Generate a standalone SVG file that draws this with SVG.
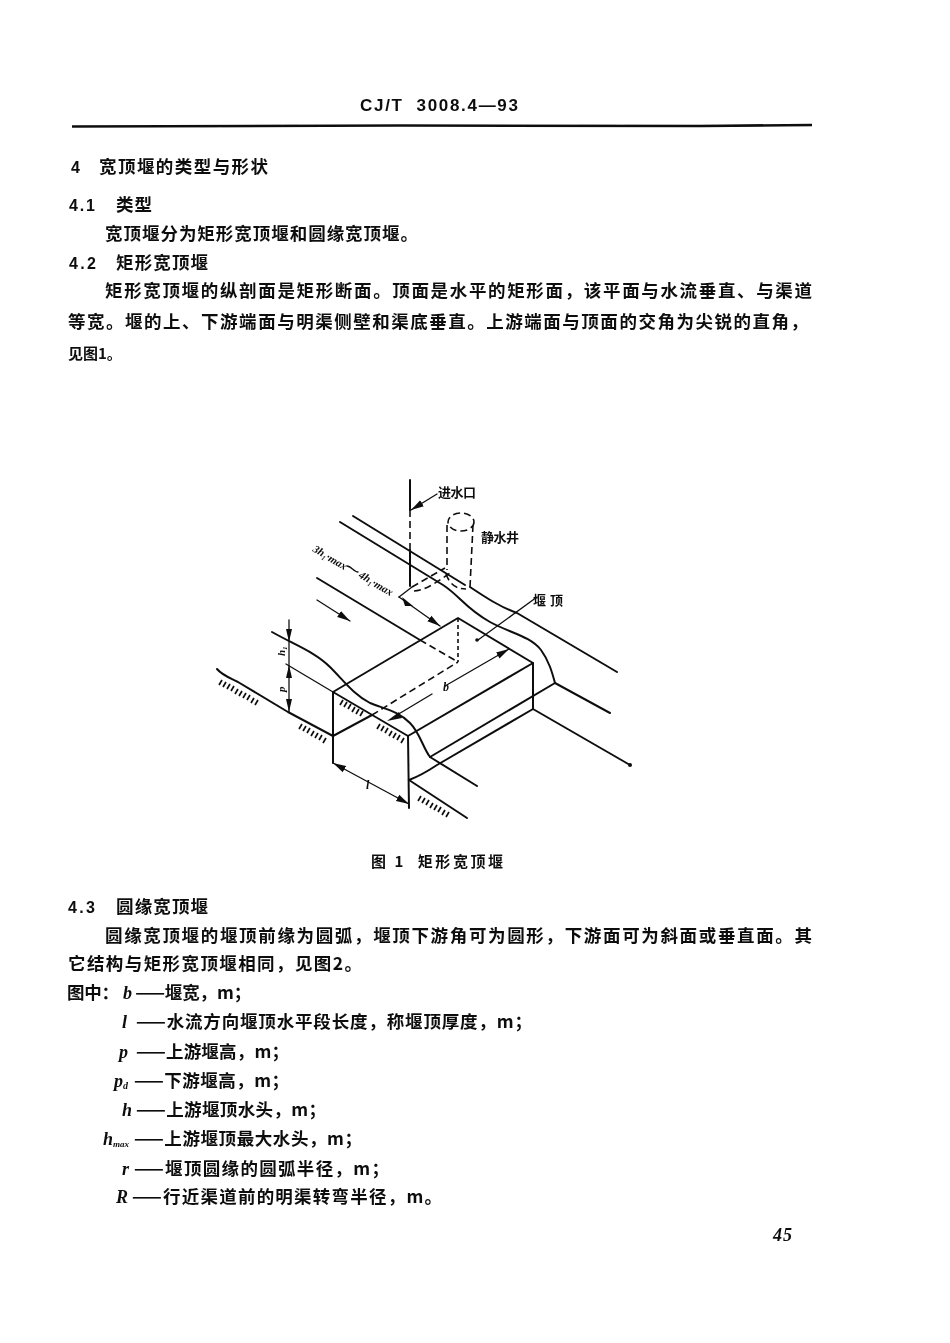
<svg xmlns="http://www.w3.org/2000/svg" width="950" height="1343" viewBox="0 0 950 1343">
<style>
text{font-family:"Noto Sans CJK SC","Liberation Sans",sans-serif;fill:#111;font-size:17.5px;font-weight:700}
.n{font-family:"Liberation Sans","Noto Sans CJK SC",sans-serif;font-weight:700;font-size:16px}
.i{font-family:"Liberation Serif","Noto Sans CJK SC",serif;font-style:italic;font-weight:700;font-size:18px}
.s{font-size:13px;font-weight:700}
.t{font-family:"Liberation Serif",serif;font-style:italic;font-size:11px;font-weight:700}
.l{fill:none;stroke:#111;stroke-width:2;stroke-linecap:round;stroke-linejoin:round}
.m{fill:none;stroke:#111;stroke-width:1.3;stroke-linecap:round}
.d{fill:none;stroke:#111;stroke-width:1.6;stroke-dasharray:7 4}
.dd{fill:none;stroke:#111;stroke-width:1.6;stroke-dasharray:4 3}
.h{fill:none;stroke:#111;stroke-width:1.7}
.a{fill:#111;stroke:none}
</style>
<defs>
<marker id="ah" markerWidth="14" markerHeight="8" refX="13" refY="4" orient="auto-start-reverse" markerUnits="userSpaceOnUse"><path class="a" d="M0 .5L13 4L0 7.5Z"/></marker>
<filter id="soft" x="0" y="0" width="100%" height="100%"><feGaussianBlur stdDeviation="0.4"/></filter>
</defs>
<rect width="950" height="1343" fill="#fff"/>
<g filter="url(#soft)">
<g id="header">
<text class="n" x="360" y="111" textLength="158" style="font-size:17px" xml:space="preserve">CJ/T  3008.4—93</text>
<path d="M72 126.5L400 125.5L700 126L812 125" fill="none" stroke="#111" stroke-width="2.6"/>
</g>
<g id="section-4">
<text class="n" x="71" y="173">4</text>
<text x="99" y="173" textLength="169">宽顶堰的类型与形状</text>
<text class="n" x="69" y="211" textLength="26">4.1</text>
<text x="116" y="211" textLength="36">类型</text>
<text x="105" y="240" textLength="313">宽顶堰分为矩形宽顶堰和圆缘宽顶堰。</text>
<text class="n" x="69" y="269" textLength="27">4.2</text>
<text x="116" y="269" textLength="92">矩形宽顶堰</text>
<text x="105" y="297" textLength="707">矩形宽顶堰的纵剖面是矩形断面。顶面是水平的矩形面，该平面与水流垂直、与渠道</text>
<text x="68" y="328" textLength="740">等宽。堰的上、下游端面与明渠侧壁和渠底垂直。上游端面与顶面的交角为尖锐的直角，</text>
<text x="68" y="359" style="font-size:15px">见图1。</text>
</g>
<g id="figure-1">
<g id="connectors">
<path class="l" d="M410 480V510"/>
<path class="d" d="M410 510V550"/>
<path class="l" d="M410 550V586"/>
<path class="m" d="M437 494L411 510" marker-end="url(#ah)"/>
<path class="l" d="M353 516L465 585"/>
<path class="l" d="M340 522L443 585C460 596 465 608 490 622C510 633 530 636 541 650C549 661 552 672 555 683"/>
<path class="l" d="M470 587C485 597 500 607 517 613L617 672"/>
<path class="l" d="M555 683L610 713"/>
<path class="l" d="M533 709L630 765"/>
<path class="l" d="M317 578L420 640"/>
<path class="d" d="M420 640L458 662"/>
<path class="m" d="M317 600L350 621" marker-end="url(#ah)"/>
<path class="m" d="M399 597L412 587"/>
<path class="m" d="M399 597L440 626" marker-end="url(#ah)"/>
<path class="a" d="M402 597L413 606L405 606Z"/>
<path class="l" d="M272 632C295 645 315 652 330 667C345 682 352 693 370 703C385 709 398 711 410 723C420 733 423 748 430 757L477 786"/>
<path class="l" d="M217 669C222 675 228 677 238 682L288 712L333 736"/>
<path class="l" d="M333 692L458 618L533 663L408 736L333 692"/>
<path class="l" d="M333 692V763"/>
<path class="l" d="M408 736L409 808"/>
<path class="l" d="M533 663V709"/>
<path class="l" d="M333 736L372 715"/>
<path class="d" d="M372 715L458 662"/>
<path class="dd" d="M458 618V662"/>
<path class="l" d="M430 757L555 683"/>
<path class="l" d="M409 780C417 777 425 773 437 765L533 709"/>
<path class="l" d="M409 780L467 818"/>
<path class="m" d="M397 715L432 694"/>
<path class="m" d="M445 686L509 649" marker-end="url(#ah)"/>
<path class="a" d="M399 712L387 721L402 718Z"/>
<path class="m" d="M333 763L409 804" marker-start="url(#ah)" marker-end="url(#ah)"/>
<path class="m" d="M289 620V712"/>
<path class="a" d="M286 629H292L289 642Z"/>
<path class="a" d="M286 678H292L289 665Z"/>
<path class="a" d="M286 699H292L289 712Z"/>
<path class="m" d="M286 664L333 692"/>
<path class="m" d="M478 640L537 597"/>
<circle class="a" cx="477" cy="640" r="1.8"/>
<circle class="a" cx="630" cy="765" r="2"/>
</g>
<g id="stilling-well">
<ellipse class="d" cx="461" cy="522" rx="13" ry="9"/>
<path class="d" d="M447 525V570"/>
<path class="d" d="M473 525L470 587"/>
<path class="d" d="M412 587L445 568"/>
<path class="d" d="M414 591C425 591 440 580 450 573"/>
<path class="d" d="M446 574C449 582 454 589 466 589"/>
</g>
<g id="hatching">
<path class="h" d="M222 680l-3 5M226 682l-3 5M230 684l-3 5M234 686l-3 5M238 689l-3 5M242 691l-3 5M246 693l-3 5M250 695l-3 5M254 698l-3 5M258 700l-3 5"/>
<path class="h" d="M302 724l-3 5M306 726l-3 5M310 728l-3 5M314 731l-3 5M318 733l-3 5M322 735l-3 5M326 738l-3 5"/>
<path class="h" d="M343 700l-3 5M347 702l-3 5M351 704l-3 5M355 707l-3 5M359 709l-3 5M363 711l-3 5"/>
<path class="h" d="M380 724l-3 5M384 726l-3 5M388 728l-3 5M392 731l-3 5M396 733l-3 5M400 735l-3 5M404 738l-3 5"/>
<path class="h" d="M421 796l-3 5M425 798l-3 5M429 800l-3 5M433 803l-3 5M437 805l-3 5M441 807l-3 5M445 810l-3 5M449 812l-3 5"/>
</g>
<g id="labels">
<text class="s" x="438" y="497" textLength="38">进水口</text>
<text class="s" x="481" y="542" textLength="38">静水井</text>
<text class="s" x="533" y="605" textLength="30">堰 顶</text>
<text class="t" transform="translate(312 551) rotate(31)">3h₁·max</text>
<text class="t" transform="translate(358 577) rotate(31)">4h₁·max</text>
<path class="m" d="M347 566C351 566 354 572 358 572"/>
<text class="t" transform="translate(285 656) rotate(-90)">h₁</text>
<text class="t" transform="translate(285 692) rotate(-90)">p</text>
<text class="i" x="443" y="691" style="font-size:12px">b</text>
<text class="i" x="366" y="789" style="font-size:12px">l</text>
</g>
<text x="371" y="867" textLength="132" style="font-size:15px" xml:space="preserve">图 1  矩形宽顶堰</text>
</g>
<g id="section-4-3">
<text class="n" x="68" y="913" textLength="27">4.3</text>
<text x="116" y="913" textLength="92">圆缘宽顶堰</text>
<text x="105" y="942" textLength="707">圆缘宽顶堰的堰顶前缘为圆弧，堰顶下游角可为圆形，下游面可为斜面或垂直面。其</text>
<text x="68" y="970" textLength="294">它结构与矩形宽顶堰相同，见图2。</text>
</g>
<g id="symbols">
<text x="67" y="999" textLength="52">图中：</text>
<text class="i" x="123" y="999">b</text>
<text x="135" y="999" textLength="116">——堰宽，m；</text>
<text class="i" x="122" y="1028">l</text>
<text x="136" y="1028" textLength="396">——水流方向堰顶水平段长度，称堰顶厚度，m；</text>
<text class="i" x="119" y="1058">p</text>
<text x="136" y="1058" textLength="153">——上游堰高，m；</text>
<text class="i" x="114" y="1087">p<tspan style="font-size:10px" dy="2">d</tspan></text>
<text x="134" y="1087" textLength="155">——下游堰高，m；</text>
<text class="i" x="122" y="1116">h</text>
<text x="136" y="1116" textLength="190">——上游堰顶水头，m；</text>
<text class="i" x="103" y="1145">h<tspan style="font-size:9px" dy="2">max</tspan></text>
<text x="134" y="1145" textLength="228">——上游堰顶最大水头，m；</text>
<text class="i" x="122" y="1175">r</text>
<text x="134" y="1175" textLength="255">——堰顶圆缘的圆弧半径，m；</text>
<text class="i" x="116" y="1203">R</text>
<text x="132" y="1203" textLength="310">——行近渠道前的明渠转弯半径，m。</text>
</g>
<text class="i" x="773" y="1241" textLength="19">45</text>
</g>
</svg>
